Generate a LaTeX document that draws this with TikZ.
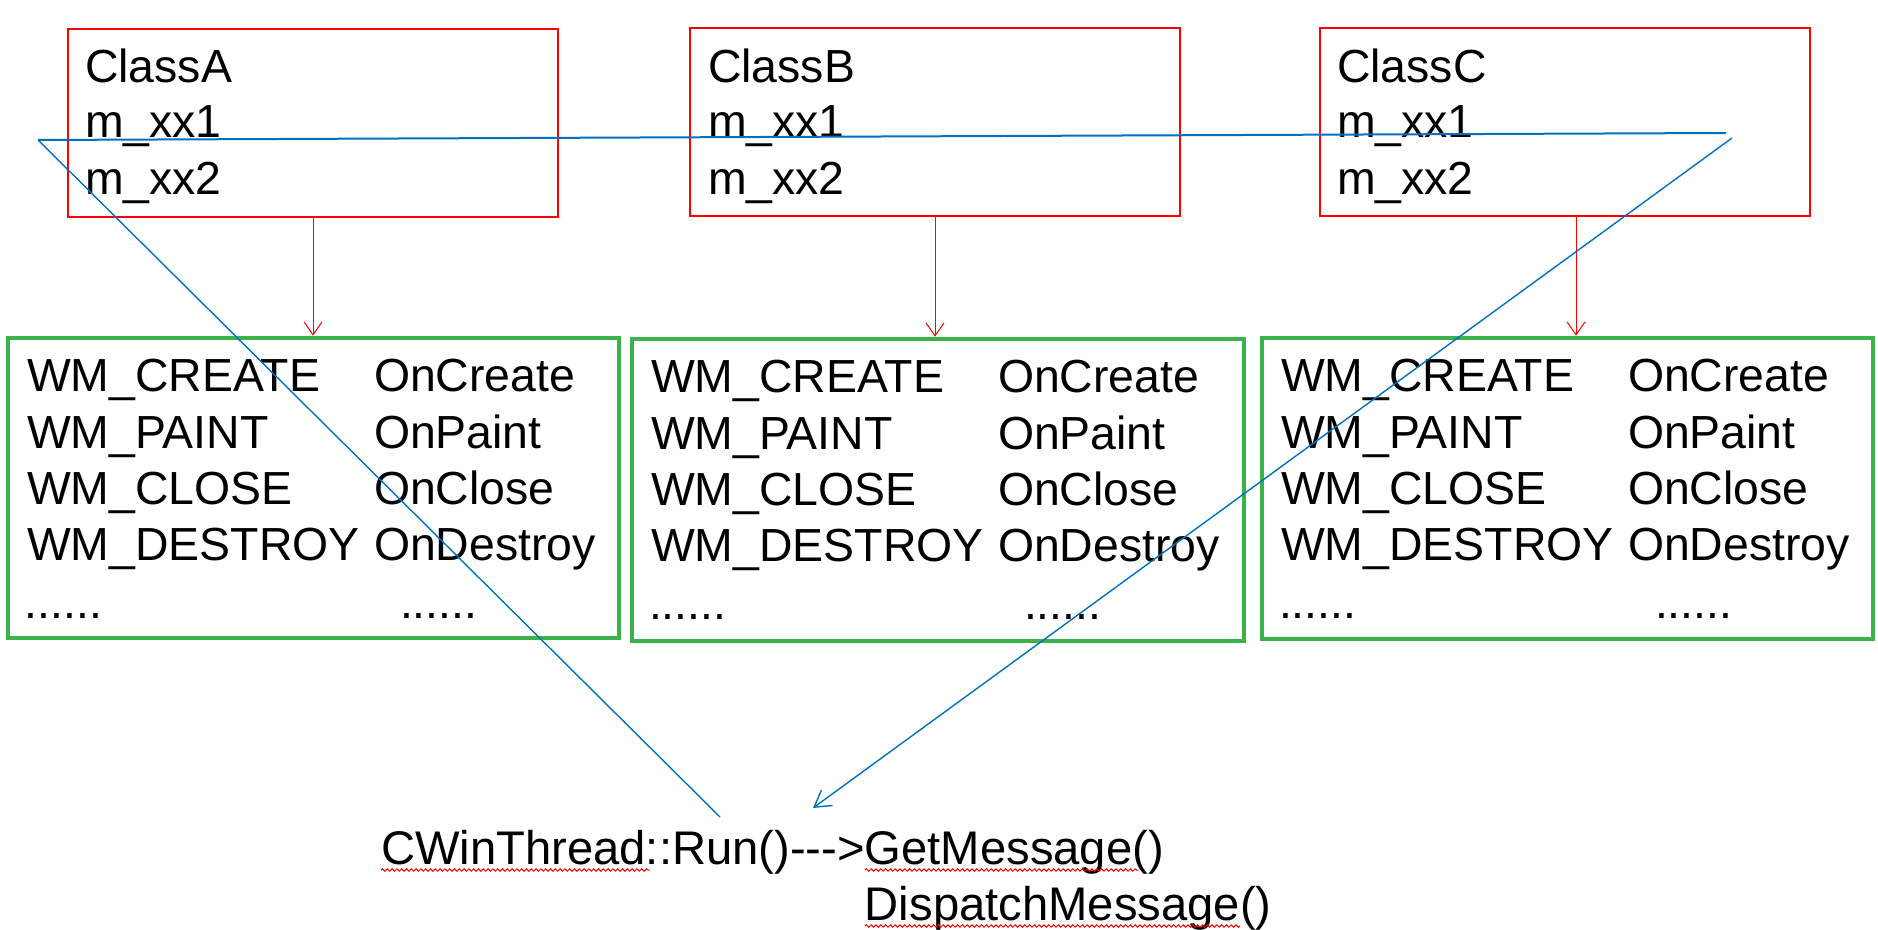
\documentclass[tikz,border=0pt]{standalone}
\usepackage{fontspec}
\setmainfont{Liberation Sans}
\usetikzlibrary{arrows.meta,decorations.pathmorphing,calc}
\definecolor{boxred}{RGB}{255,0,0}
\definecolor{boxgreen}{RGB}{59,178,74}
\definecolor{lineblue}{RGB}{0,112,192}
\newcommand{\hy}{\mbox{-}}
\begin{document}
\begin{tikzpicture}[x=0.5pt,y=-0.5pt,
  classbox/.style={draw=boxred,line width=1pt,minimum width=245pt,minimum height=94pt,inner sep=0pt},
  mapbox/.style={draw=boxgreen,line width=2.25pt,inner sep=0pt,minimum width=305.5pt,minimum height=150pt},
  txt/.style={anchor=base west,inner sep=0pt,outer sep=0pt,font=\fontsize{23.2pt}{28pt}\selectfont},
  bigtxt/.style={txt,font=\fontsize{23.6pt}{28pt}\selectfont},
  redarrow/.style={draw=boxred,line width=0.5pt,-{Straight Barb[length=6.5pt,width=9pt]}},
  blueline/.style={draw=lineblue,line width=0.7pt},
  squiggle/.style={draw=boxred,line width=0.5pt,decorate,decoration={snake,segment length=2.4pt,amplitude=0.6pt}}
]
\useasboundingbox[fill=white] (0,0) rectangle (1878,930);

% class boxes
\node[classbox] (A) at (313,123) {};
\node[classbox] (B) at (935,122.5) {};
\node[classbox] (C) at (1565,122) {};

% message map boxes
\node[mapbox] (G1) at (313.5,488) {};
\node[mapbox,minimum width=306pt,minimum height=151pt] (G2) at (938,490) {};
\node[mapbox,minimum height=150.5pt] (G3) at (1567.5,488.5) {};

% red arrows
\draw[redarrow] (A.south) -- (A.south |- G1.north);
\draw[redarrow] (B.south) -- (B.south |- G2.north);
\draw[redarrow] ([xshift=5.5pt]C.south) -- ([xshift=5.5pt]C.south |- G3.north);

% class texts
\foreach \n/\lab/\x in {a/A/85, b/B/708, c/C/1337} {
  \node[txt] (\n1) at (\x,83) {Class\lab};
  \node[txt] (\n2) at (\x,138) {m\_xx1};
  \node[txt] (\n3) at (\x,195) {m\_xx2};
}

% map texts
\foreach \bx/\xa/\xb/\xc/\xd/\yo in {1/27/374/25/400/0, 2/651/998/649/1024/1, 3/1281/1628/1279/1655/0} {
  \node[txt] (m\bx a1) at (\xa,392+\yo) {WM\_CREATE};
  \node[txt] (m\bx a2) at (\xa,448+\yo) {WM\_PAINT};
  \node[txt] (m\bx a3) at (\xa,504+\yo) {WM\_CLOSE};
  \node[txt] (m\bx a4) at (\xa,560+\yo) {WM\_DESTROY};
  \node[txt] (m\bx a5) at (\xc,618+\yo) {......};
  \node[txt] (m\bx b1) at (\xb,392+\yo) {OnCreate};
  \node[txt] (m\bx b2) at (\xb,448+\yo) {OnPaint};
  \node[txt] (m\bx b3) at (\xb,504+\yo) {OnClose};
  \node[txt] (m\bx b4) at (\xb,560+\yo) {OnDestroy};
  \node[txt] (m\bx b5) at (\xd,618+\yo) {......};
}

% bottom text
\node[bigtxt] (cw) at (381,864) {CWinThread};
\node[bigtxt] (run) at (cw.base east) {::Run()\hy\hy\hy>};
\node[bigtxt] (gm) at (run.base east) {GetMessage};
\node[bigtxt] (gp) at (gm.base east) {()};
\node[bigtxt] (dm) at ([yshift=-28pt]gm.base west) {DispatchMessage};
\node[bigtxt] (dp) at (dm.base east) {()};

% spell-check squiggles
\draw[squiggle] ([yshift=-3pt]cw.base west) -- ([yshift=-3pt,xshift=2pt]cw.base east);
\draw[squiggle] ([yshift=-3pt]gm.base west) -- ([yshift=-3pt,xshift=3pt]gm.base east);
\draw[squiggle] ([yshift=-3pt]dm.base west) -- ([yshift=-3pt]dm.base east);

% blue lines
\coordinate (L) at (38,140);
\coordinate (R1) at (1726,133);
\coordinate (R2) at (1732,138);
\coordinate (T) at (720,817);
\coordinate (H) at (813,808);
\draw[blueline,line width=1pt] (L) -- (R1);
\draw[blueline] (L) -- (T);
\draw[blueline,-{Straight Barb[length=8pt,width=9.5pt]}] (R2) -- (H);
\end{tikzpicture}
\end{document}
